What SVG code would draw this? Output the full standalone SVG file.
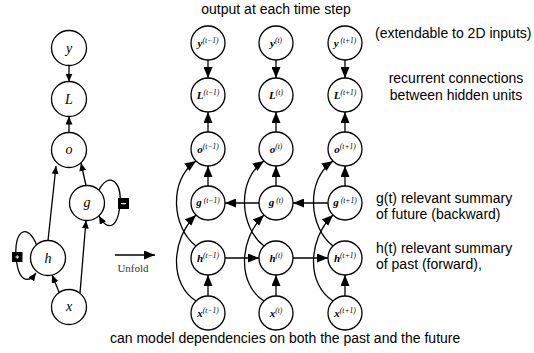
<svg xmlns="http://www.w3.org/2000/svg" width="534" height="353" viewBox="0 0 534 353">
  <style>
    .node { fill: #fff; stroke: #000; stroke-width: 1.3; }
    .edge { fill: none; stroke: #000; stroke-width: 1.3; }
    .big { marker-end: url(#arrowBig); }
    .small { marker-end: url(#arrowSmall); }
    .lbl { font-family: "Liberation Serif", serif; font-style: italic; font-size: 14px; text-anchor: middle; }
    .ulbl { font-family: "Liberation Serif", serif; font-style: italic; text-anchor: middle; }
    .m { font-weight: bold; font-size: 11px; }
    .s { font-size: 7.5px; }
    .note { font-family: "Liberation Sans", Arial, sans-serif; font-size: 14px; fill: #000; }
    .mid { text-anchor: middle; }
  </style>
  <defs>
    <marker id="arrowBig" markerUnits="userSpaceOnUse" markerWidth="11" markerHeight="9" refX="11" refY="4.5" orient="auto">
      <path d="M0,0 L11,4.5 L0,9 z" fill="#000"/>
    </marker>
    <marker id="arrowSmall" markerUnits="userSpaceOnUse" markerWidth="8" markerHeight="7" refX="8" refY="3.5" orient="auto">
      <path d="M0,0 L8,3.5 L0,7 z" fill="#000"/>
    </marker>
  </defs>

  <!-- folded graph: connectors -->
  <g id="folded-edges">
    <path class="edge small" d="M69,65.5 L69,81.5"/>
    <path class="edge small" d="M69,132.5 L69,116.5"/>
    <path class="edge small" d="M48,240.5 L56,166"/>
    <path class="edge small" d="M86,185.5 L81,163"/>
    <path class="edge small" d="M59,292 L52,275"/>
    <path class="edge small" d="M80,293 L86,220.5"/>
    <path class="edge small" d="M37,246 C28,222 14,230 16,256 C18,282 28,284 36,273"/>
    <path class="edge small" d="M99,190 C108,172 122,180 120,204 C118,228 108,232 99,216"/>
    <path class="edge big" d="M115,255 L155,255"/>
  </g>

  <!-- folded graph: nodes -->
  <g id="f-y"><circle class="node" cx="69" cy="48" r="17.5"/><text class="lbl" x="69" y="53">y</text></g>
  <g id="f-L"><circle class="node" cx="69" cy="99" r="17.5"/><text class="lbl" x="69" y="104">L</text></g>
  <g id="f-o"><circle class="node" cx="69" cy="150" r="17.5"/><text class="lbl" x="69" y="154">o</text></g>
  <g id="f-g"><circle class="node" cx="87" cy="203" r="17.5"/><text class="lbl" x="87" y="207">g</text></g>
  <g id="f-h"><circle class="node" cx="48" cy="258" r="17.5"/><text class="lbl" x="48" y="263">h</text></g>
  <g id="f-x"><circle class="node" cx="69" cy="307" r="17.5"/><text class="lbl" x="69" y="311">x</text></g>
  <g id="sign-minus"><rect x="118" y="198" width="11" height="11" fill="#000"/><rect x="121" y="203" width="5" height="1.2" fill="#fff"/></g>
  <g id="sign-plus"><rect x="12" y="252" width="10.5" height="10" fill="#000"/><rect x="15.5" y="256.5" width="3.5" height="1" fill="#fff"/><rect x="16.75" y="255.25" width="1" height="3.5" fill="#fff"/></g>
  <text x="133" y="272" font-family="Liberation Serif, serif" font-size="11" fill="#333" text-anchor="middle">Unfold</text>

  <!-- unfolded graph: connectors -->
  <g id="unfolded-edges">
    <!-- column t-1 -->
    <path class="edge big" d="M208,60 L208,78"/>
    <path class="edge big" d="M208,132 L208,112"/>
    <path class="edge big" d="M208,186 L208,166"/>
    <path class="edge big" d="M208,296 L208,275"/>
    <path class="edge big" d="M196,246 C172,228 168,180 196,161"/>
    <path class="edge big" d="M196,301 C170,285 170,240 196,215"/>
    <!-- column t -->
    <path class="edge big" d="M276,60 L276,78"/>
    <path class="edge big" d="M276,132 L276,112"/>
    <path class="edge big" d="M276,186 L276,166"/>
    <path class="edge big" d="M276,296 L276,275"/>
    <path class="edge big" d="M264,246 C240,228 236,180 264,161"/>
    <path class="edge big" d="M264,301 C238,285 238,240 264,215"/>
    <!-- column t+1 -->
    <path class="edge big" d="M345,60 L345,78"/>
    <path class="edge big" d="M345,132 L345,112"/>
    <path class="edge big" d="M345,186 L345,166"/>
    <path class="edge big" d="M345,296 L345,275"/>
    <path class="edge big" d="M333,246 C309,228 305,180 333,161"/>
    <path class="edge big" d="M333,301 C307,285 307,240 333,215"/>
    <!-- forward hidden chain -->
    <path class="edge big" d="M225,258 L259,258"/>
    <path class="edge big" d="M293,258 L328,258"/>
    <!-- backward hidden chain -->
    <path class="edge big" d="M328,203 L293,203"/>
    <path class="edge big" d="M259,203 L225,203"/>
  </g>

  <!-- unfolded graph: nodes -->
  <g id="y-tm1"><circle class="node" cx="208" cy="43" r="17"/><text class="ulbl" x="208" y="47"><tspan class="m">y</tspan><tspan class="s" dy="-4">(t−1)</tspan></text></g>
  <g id="y-t"><circle class="node" cx="276" cy="43" r="17"/><text class="ulbl" x="276" y="47"><tspan class="m">y</tspan><tspan class="s" dy="-4">(t)</tspan></text></g>
  <g id="y-tp1"><circle class="node" cx="345" cy="43" r="17"/><text class="ulbl" x="345" y="47"><tspan class="m">y</tspan><tspan class="s" dy="-4"> (t+1)</tspan></text></g>

  <g id="L-tm1"><circle class="node" cx="208" cy="95" r="17"/><text class="ulbl" x="208" y="99"><tspan class="m">L</tspan><tspan class="s" dy="-4">(t−1)</tspan></text></g>
  <g id="L-t"><circle class="node" cx="276" cy="95" r="17"/><text class="ulbl" x="276" y="99"><tspan class="m">L</tspan><tspan class="s" dy="-4">(t)</tspan></text></g>
  <g id="L-tp1"><circle class="node" cx="345" cy="95" r="17"/><text class="ulbl" x="345" y="99"><tspan class="m">L</tspan><tspan class="s" dy="-4">(t+1)</tspan></text></g>

  <g id="o-tm1"><circle class="node" cx="208" cy="149" r="17"/><text class="ulbl" x="208" y="153"><tspan class="m">o</tspan><tspan class="s" dy="-4">(t−1)</tspan></text></g>
  <g id="o-t"><circle class="node" cx="276" cy="149" r="17"/><text class="ulbl" x="276" y="153"><tspan class="m">o</tspan><tspan class="s" dy="-4">(t)</tspan></text></g>
  <g id="o-tp1"><circle class="node" cx="345" cy="149" r="17"/><text class="ulbl" x="345" y="153"><tspan class="m">o</tspan><tspan class="s" dy="-4">(t+1)</tspan></text></g>

  <g id="g-tm1"><circle class="node" cx="208" cy="203" r="17"/><text class="ulbl" x="208" y="206"><tspan class="m">g</tspan><tspan class="s" dy="-3.5"> (t−1)</tspan></text></g>
  <g id="g-t"><circle class="node" cx="276" cy="203" r="17"/><text class="ulbl" x="276" y="206"><tspan class="m">g</tspan><tspan class="s" dy="-3.5"> (t)</tspan></text></g>
  <g id="g-tp1"><circle class="node" cx="345" cy="203" r="17"/><text class="ulbl" x="345" y="206"><tspan class="m">g</tspan><tspan class="s" dy="-3.5"> (t+1)</tspan></text></g>

  <g id="h-tm1"><circle class="node" cx="208" cy="258" r="17"/><text class="ulbl" x="208" y="262"><tspan class="m">h</tspan><tspan class="s" dy="-4">(t−1)</tspan></text></g>
  <g id="h-t"><circle class="node" cx="276" cy="258" r="17"/><text class="ulbl" x="276" y="262"><tspan class="m">h</tspan><tspan class="s" dy="-4">(t)</tspan></text></g>
  <g id="h-tp1"><circle class="node" cx="345" cy="258" r="17"/><text class="ulbl" x="345" y="262"><tspan class="m">h</tspan><tspan class="s" dy="-4">(t+1)</tspan></text></g>

  <g id="x-tm1"><circle class="node" cx="208" cy="313" r="17"/><text class="ulbl" x="208" y="317"><tspan class="m">x</tspan><tspan class="s" dy="-4">(t−1)</tspan></text></g>
  <g id="x-t"><circle class="node" cx="276" cy="313" r="17"/><text class="ulbl" x="276" y="317"><tspan class="m">x</tspan><tspan class="s" dy="-4">(t)</tspan></text></g>
  <g id="x-tp1"><circle class="node" cx="345" cy="313" r="17"/><text class="ulbl" x="345" y="317"><tspan class="m">x</tspan><tspan class="s" dy="-4">(t+1)</tspan></text></g>

  <!-- annotations -->
  <text class="note mid" x="276" y="14">output at each time step</text>
  <text class="note" x="375" y="38">(extendable to 2D inputs)</text>
  <text class="note mid" x="456" y="83">recurrent connections</text>
  <text class="note mid" x="456" y="100">between hidden units</text>
  <text class="note" x="376" y="203">g(t) relevant summary</text>
  <text class="note" x="376" y="219">of future (backward)</text>
  <text class="note" x="376" y="253">h(t) relevant summary</text>
  <text class="note" x="376" y="269">of past (forward),</text>
  <text class="note" x="110" y="343">can model dependencies on both the past and the future</text>
</svg>
